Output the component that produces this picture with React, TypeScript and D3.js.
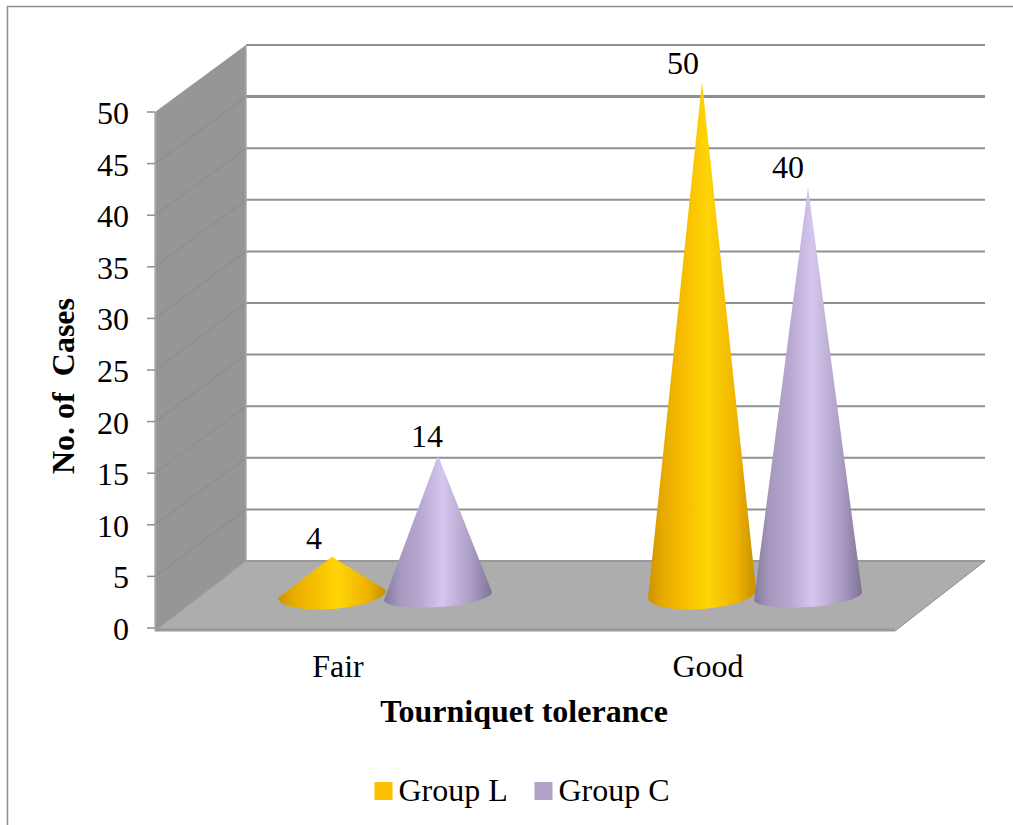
import React from "react";
import * as d3 from "d3";

// Tourniquet tolerance by group
const categories = ["Fair", "Good"];
const groupNames = ["Group L", "Group C"];
const groupL = [4, 50];
const groupC = [14, 40];
const yTicks = d3.range(0, 55, 5);

const FONT = "'Liberation Serif', 'Times New Roman', serif";
const W = 1013;
const H = 825;
const FS = 32;

// Pseudo-3D box: the front plane plus a depth offset gives the back plane
const frontLeft = 155;
const frontRight = 895;
const depthX = 91;
const depthY = -67;
const y0Front = 628;
const y50Front = 112;

const yFront = d3.scaleLinear().domain([0, 50]).range([y0Front, y50Front]);
const yBack = (v: number) => yFront(v) + depthY;
const xBand = d3.scaleBand<string>().domain(categories).range([frontLeft, frontRight]);

// Cone geometry per series; the base ellipse leans up slightly to the right
const baseAnchorY = [598, 600];
const baseRx = 54;
const baseRy = [15, 11];
const baseTilt = 4;
const groupOffset = [-53, 53];
const coneShiftX = 45;
const gradientIds = ["coneGold", "coneLilac"];
const swatchColors = ["#fdc000", "#b1a0c7"];
const labelDx = [
  [-18, -11],
  [-19, -20],
];
const labelDy = [
  [-8, -9],
  [-8, -9],
];

function conePath(cx: number, apexY: number, anchor: number, ry: number) {
  const cy = anchor - 4;
  const angle = (Math.atan2(-baseTilt, baseRx) * 180) / Math.PI;
  const p = d3.path();
  p.moveTo(cx - baseRx, cy + baseTilt);
  p.lineTo(cx, apexY);
  p.lineTo(cx + baseRx, cy - baseTilt);
  return `${p.toString()} A ${baseRx} ${ry} ${angle} 0 1 ${cx - baseRx} ${cy + baseTilt} Z`;
}

function Cones() {
  const series = [groupL, groupC];
  return (
    <g>
      {categories.map((cat, ci) =>
        series.map((values, si) => {
          const v = values[ci];
          const cx = xBand(cat)! + xBand.bandwidth() / 2 + coneShiftX + groupOffset[si];
          const anchor = baseAnchorY[si];
          const apexY = anchor - (yFront(0) - yFront(v));
          return (
            <g key={`${cat}-${si}`}>
              <path d={conePath(cx, apexY, anchor, baseRy[si])} fill={`url(#${gradientIds[si]})`} />
              <text
                x={cx + labelDx[ci][si]}
                y={apexY + labelDy[ci][si]}
                textAnchor="middle"
                fontSize={FS}
                fill="#000"
              >
                {v}
              </text>
            </g>
          );
        })
      )}
    </g>
  );
}

export default function App() {
  const bl = frontLeft + depthX;
  const br = frontRight + depthX - 1;
  const floor = [
    [frontLeft, y0Front],
    [bl, yBack(0)],
    [br, yBack(0)],
    [frontRight, y0Front + 3],
    [frontLeft, y0Front + 3],
  ];
  const wall = [
    [frontLeft, yFront(50)],
    [bl, yBack(50)],
    [bl, yBack(0)],
    [frontLeft, y0Front + 3],
  ];
  const pts = (a: number[][]) => a.map((d) => d.join(",")).join(" ");

  return (
    <svg
      width={W}
      height={H}
      viewBox={`0 0 ${W} ${H}`}
      style={{ position: "absolute", left: 0, top: 0, display: "block", background: "#fff" }}
      fontFamily={FONT}
    >
      <defs>
        <linearGradient id="coneGold" x1="0" x2="1" y1="0" y2="0">
          <stop offset="0" stopColor="#c99400" />
          <stop offset="0.12" stopColor="#e5a800" />
          <stop offset="0.32" stopColor="#f6bc00" />
          <stop offset="0.55" stopColor="#ffd506" />
          <stop offset="0.82" stopColor="#f0b400" />
          <stop offset="1" stopColor="#c68f00" />
        </linearGradient>
        <linearGradient id="coneLilac" x1="0" x2="1" y1="0" y2="0">
          <stop offset="0" stopColor="#85799c" />
          <stop offset="0.14" stopColor="#a597bd" />
          <stop offset="0.34" stopColor="#b9a9d2" />
          <stop offset="0.54" stopColor="#d5c6ee" />
          <stop offset="0.8" stopColor="#ad9ec5" />
          <stop offset="1" stopColor="#80739a" />
        </linearGradient>
      </defs>

      {/* Outer frame: top and left edges only */}
      <path d={`M7.5 825 V6.5 H1013`} fill="none" stroke="#8e8e8e" strokeWidth={1.5} />

      {/* Back wall gridlines */}
      {yTicks.map((t) => (
        <line key={t} x1={bl} x2={br} y1={yBack(t)} y2={yBack(t)} stroke="#909090" strokeWidth={t === 45 ? 3 : 2} />
      ))}

      {/* Floor and side wall */}
      <polygon points={pts(floor)} fill="#adadad" />
      <line x1={bl} x2={br} y1={yBack(0)} y2={yBack(0)} stroke="#989898" strokeWidth={2} />
      <line x1={frontLeft} x2={frontRight} y1={y0Front + 2} y2={y0Front + 2} stroke="#999" strokeWidth={3} />
      <line x1={frontRight} x2={br} y1={y0Front + 3} y2={yBack(0)} stroke="#8f8f8f" strokeWidth={1} />
      <polygon points={pts(wall)} fill="#969696" />
      {yTicks.slice(1, -1).map((t) => (
        <line key={t} x1={frontLeft} x2={bl} y1={yFront(t)} y2={yBack(t)} stroke="#909090" strokeWidth={2} />
      ))}
      <line x1={frontLeft} x2={frontLeft} y1={yFront(50)} y2={y0Front + 3} stroke="#b0b0b0" strokeWidth={1.5} />
      <line x1={bl} x2={bl} y1={yBack(50)} y2={yBack(0)} stroke="#a8a8a8" strokeWidth={1.5} />
      <line x1={frontLeft} x2={bl} y1={y0Front + 3} y2={yBack(0)} stroke="#a0a0a0" strokeWidth={1} />

      {/* Value axis */}
      {yTicks.map((t) => (
        <g key={t}>
          <line x1={147} x2={frontLeft} y1={yFront(t)} y2={yFront(t)} stroke="#8f8f8f" strokeWidth={1.5} />
          <text x={129} y={yFront(t) + 12} textAnchor="end" fontSize={FS} fill="#000">
            {t}
          </text>
        </g>
      ))}

      <Cones />

      {/* Category labels */}
      {categories.map((c) => (
        <text key={c} x={xBand(c)! + xBand.bandwidth() / 2 - 2} y={677} textAnchor="middle" fontSize={FS} fill="#000">
          {c}
        </text>
      ))}

      {/* Axis titles */}
      <text x={524} y={722} textAnchor="middle" fontSize={FS} fontWeight="bold" fill="#000">
        Tourniquet tolerance
      </text>
      <text
        transform="translate(74,386) rotate(-90)"
        textAnchor="middle"
        fontSize={FS}
        fontWeight="bold"
        fill="#000"
        style={{ whiteSpace: "pre" }}
      >
        {"No. of  Cases"}
      </text>

      {/* Legend */}
      {groupNames.map((name, i) => {
        const lx = 374.5 + i * 160;
        return (
          <g key={name}>
            <rect x={lx} y={782} width={18} height={18} fill={swatchColors[i]} />
            <text x={lx + 24} y={801} fontSize={FS} fill="#000">
              {name}
            </text>
          </g>
        );
      })}
    </svg>
  );
}
